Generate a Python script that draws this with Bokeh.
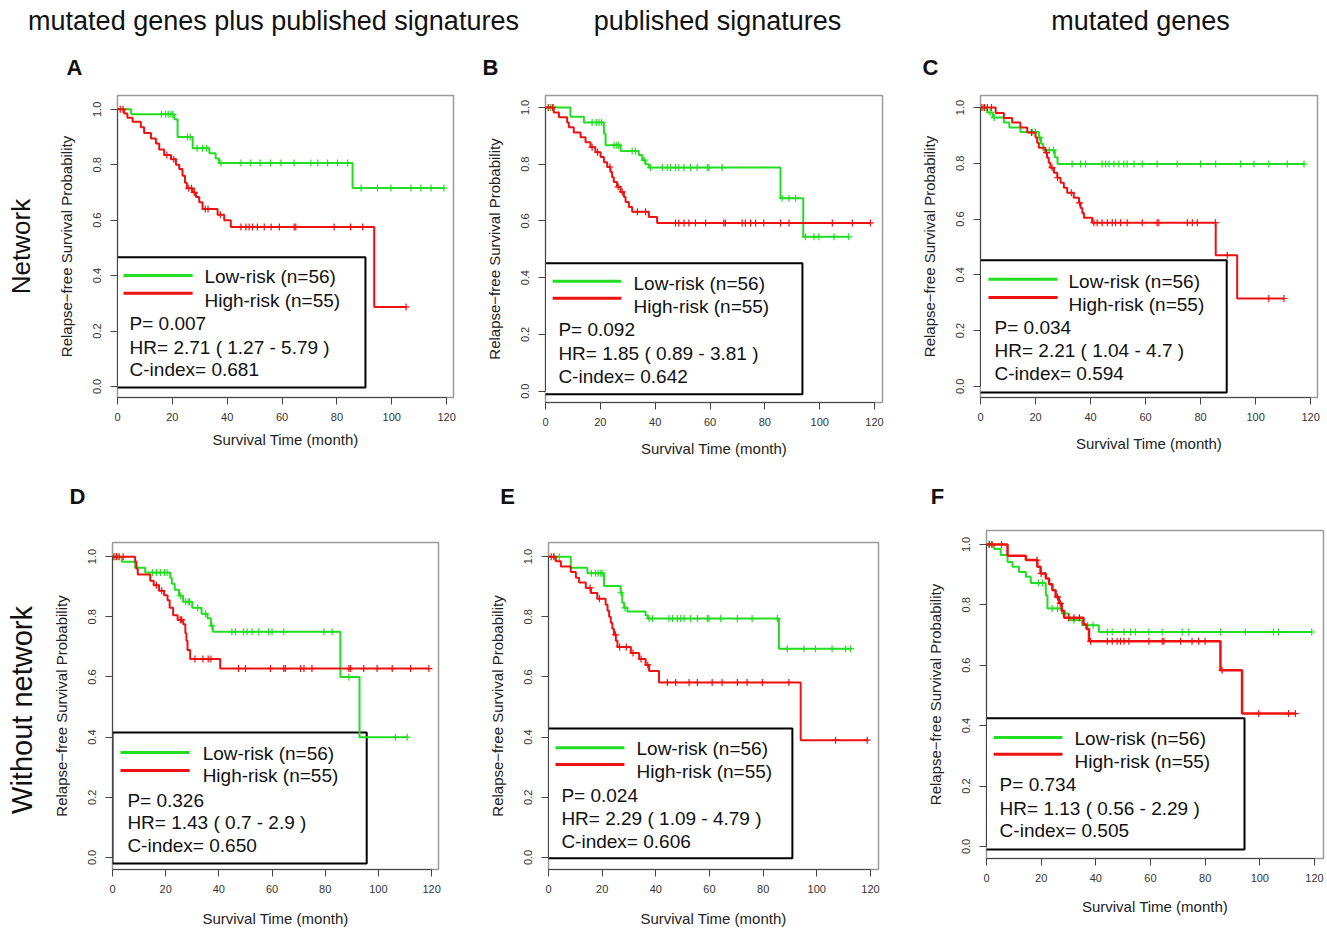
import math
from bokeh.plotting import figure
from bokeh.models import Range1d, BoxAnnotation, PrintfTickFormatter, LinearAxis, FixedTicker
from bokeh.layouts import column, row
from bokeh.core.properties import value
from bokeh.embed import file_html
from bokeh.resources import INLINE

# ------------------------------------------------------------------ data
column_headers = ["mutated genes plus published signatures", "published signatures", "mutated genes"]
row_labels = ["Network", "Without  network"]
panel_letters = ["A", "B", "C", "D", "E", "F"]
legend_labels = ["Low-risk (n=56)", "High-risk (n=55)"]
x_ticks = [0, 20, 40, 60, 80, 100, 120]
y_ticks = [0.0, 0.2, 0.4, 0.6, 0.8, 1.0]
x_title = "Survival Time (month)"
y_title = "Relapse\u2212free Survival Probability"

A_low_time = [5, 20.7, 21.9, 27.4, 33.5, 35.8, 37.0, 85.7]
A_low_surv = [0.982, 0.964, 0.900, 0.860, 0.842, 0.823, 0.806, 0.716]
A_low_cens = [16, 17.5, 18.5, 19.5, 20.2, 25.5, 26.5, 29, 31, 32.5, 37.7, 45, 48.6, 52, 55.8, 59.6, 64.4,
              70.5, 73, 76.6, 80.2, 83.9, 88.8, 94.8, 99.7, 107, 110.6, 114.3, 119]
A_high_time = [2.4, 3.6, 5.5, 8.5, 9.7, 12.2, 14.0, 15.2, 17.0, 19.5, 21.3, 22.5, 23.7, 24.6, 25.3, 27.4,
               28.6, 29.8, 31.0, 36.5, 38.9, 41.3, 93.6]
A_high_surv = [0.985, 0.970, 0.955, 0.935, 0.915, 0.895, 0.877, 0.855, 0.835, 0.820, 0.800, 0.785, 0.760,
               0.735, 0.715, 0.700, 0.684, 0.665, 0.640, 0.620, 0.600, 0.575, 0.287]
A_high_cens = [1, 2, 18, 20.5, 26, 27, 28, 32, 33, 37.5, 45, 46.8, 48, 49.2, 51, 53.5, 56, 59, 64.4, 65,
               79, 85, 89.4, 105.2]

B_low_time = [9.1, 14.0, 21.3, 21.9, 27.4, 34.0, 35.3, 36.5, 37.7, 85.7, 94.0]
B_low_surv = [0.967, 0.947, 0.908, 0.867, 0.846, 0.832, 0.814, 0.800, 0.788, 0.680, 0.544]
B_low_cens = [1.8, 3, 17, 18.5, 19.5, 20.5, 25, 26, 26.7, 31.6, 32.8, 36, 38.3, 42.6, 44.4, 45.6, 47.4,
              48.6, 50.5, 52.9, 55.3, 59, 59.6, 64.4, 86.3, 88.8, 91.2, 94.8, 97.9, 99.7, 105.2, 110.6]
B_high_time = [3.0, 4.9, 7.9, 8.5, 10.3, 12.8, 14.6, 16.4, 18.2, 20.1, 21.3, 22.5, 23.7, 24.3, 24.9, 26.1,
               27.4, 28.6, 29.2, 30.4, 31.6, 37.7, 40.7]
B_high_surv = [0.982, 0.965, 0.947, 0.930, 0.912, 0.895, 0.877, 0.860, 0.842, 0.825, 0.807, 0.790, 0.772,
               0.754, 0.737, 0.720, 0.702, 0.684, 0.667, 0.649, 0.632, 0.614, 0.593]
B_high_cens = [1, 2.5, 17, 19, 23.5, 26.5, 28, 33.5, 36.5, 47.4, 48.6, 50.5, 52.3, 54.7, 58.4, 65, 65.6,
               71.7, 72.9, 74.8, 76.6, 79.6, 85.7, 88.8, 104.6, 111.9, 118.5]

C_low_time = [2.4, 4.5, 8.5, 10.5, 14.5, 21.2, 22.0, 22.8, 27.0, 28.0]
C_low_surv = [0.982, 0.964, 0.946, 0.928, 0.912, 0.892, 0.870, 0.847, 0.822, 0.797]
C_low_cens = [1, 3.5, 5, 19, 20, 21.5, 25, 26.5, 33.3, 36.4, 38.2, 44.2, 45.5, 46.7, 48.5, 50.3, 52.1,
              53.3, 55.8, 58.8, 64.2, 71.5, 80, 85.5, 94.5, 99.4, 104.8, 111.5, 117.6]
C_high_time = [5.5, 8.5, 11.5, 14.5, 17.0, 20.0, 20.6, 21.2, 23.6, 24.2, 24.8, 25.4, 26.7, 27.9, 29.1,
               30.3, 31.5, 33.9, 35.8, 36.4, 37.0, 37.6, 40.6, 85.5, 93.3]
C_high_surv = [0.980, 0.962, 0.946, 0.928, 0.910, 0.892, 0.874, 0.856, 0.838, 0.820, 0.802, 0.784, 0.766,
               0.748, 0.730, 0.712, 0.694, 0.676, 0.658, 0.640, 0.622, 0.605, 0.587, 0.470, 0.315]
C_high_cens = [0.5, 1.5, 2.5, 4, 18.5, 24, 26, 28, 33, 36, 41.2, 42.4, 44.2, 46.1, 47.9, 49.1, 50.9, 53.3,
               58.8, 64.2, 64.8, 75.2, 77, 78.8, 85.4, 89.7, 104.8, 110.3]

D_low_time = [3.5, 8.5, 12.3, 21.7, 22.3, 23.4, 25.0, 26.5, 30.0, 33.5, 35.7, 37.0, 37.7, 85.7, 92.9]
D_low_surv = [0.983, 0.963, 0.947, 0.930, 0.910, 0.890, 0.870, 0.850, 0.830, 0.810, 0.795, 0.770, 0.750,
              0.600, 0.400]
D_low_cens = [1, 2, 15, 16.5, 18, 19.5, 20.5, 25.5, 27.5, 28.5, 29, 32, 35, 37.4, 44.9, 46.2, 49.3, 50.6,
              52.5, 55, 58.7, 60, 64.4, 79.5, 82.6, 88.9, 106.4, 110.8]
D_high_time = [8.5, 9.0, 9.5, 14.2, 15.5, 17.5, 19.4, 20.7, 21.5, 22.8, 24.5, 26.6, 27.4, 27.8, 28.2, 29.2, 40.5]
D_high_surv = [0.983, 0.960, 0.941, 0.920, 0.905, 0.887, 0.872, 0.855, 0.830, 0.805, 0.790, 0.775, 0.745,
               0.720, 0.690, 0.660, 0.628]
D_high_cens = [0.5, 1.5, 2.5, 4, 16.5, 18.5, 25.5, 26, 31, 34, 36, 37, 47.4, 50, 59.4, 64.4, 65, 70.7, 72,
               75, 88.9, 89.5, 94.5, 99.5, 105.2, 112.1, 119]

E_low_time = [8.3, 14.5, 20.7, 26.9, 27.5, 28.2, 29.4, 36.2, 37.0, 85.9]
E_low_surv = [0.963, 0.945, 0.902, 0.880, 0.847, 0.830, 0.818, 0.805, 0.794, 0.694]
E_low_cens = [2, 4, 16, 17.5, 18.5, 19.5, 20, 27, 28.5, 37.5, 38.7, 44.9, 46.2, 48, 49.3, 50.5, 53, 55.5,
              59.2, 59.8, 64.2, 70.4, 75.9, 85.3, 89, 95.2, 99.5, 105.7, 110.7, 112.6]
E_high_time = [2.7, 4.6, 8.3, 10.2, 11.4, 13.9, 15.8, 18.2, 21.3, 22.0, 22.6, 23.2, 23.8, 24.4, 25.1, 25.7,
               30.7, 33.8, 36.2, 37.5, 41.2, 94.0]
E_high_surv = [0.985, 0.967, 0.949, 0.930, 0.914, 0.896, 0.879, 0.860, 0.840, 0.820, 0.800, 0.780, 0.760,
               0.740, 0.720, 0.700, 0.680, 0.660, 0.640, 0.620, 0.582, 0.390]
E_high_cens = [1, 2, 15.5, 19, 25, 26.5, 29, 31.5, 34.5, 37, 44.3, 47.4, 52.4, 55.5, 61, 64.7, 70.4, 74,
               79.7, 89.6, 107, 118.8]

F_low_time = [2.8, 5.2, 7.7, 9.5, 11.9, 14.4, 16.2, 21.7, 22.3, 27.7, 30.2, 35.0, 41.1]
F_low_surv = [0.985, 0.965, 0.942, 0.926, 0.909, 0.893, 0.872, 0.832, 0.788, 0.771, 0.749, 0.732, 0.710]
F_low_cens = [1, 2, 19, 20.5, 24, 26, 28.5, 32, 37, 39, 44.2, 46, 50.3, 52.7, 54.5, 59.4, 64.3, 71.6, 74,
              85.6, 94.7, 105, 106.8, 119]
F_high_time = [7.7, 14.4, 18.6, 19.8, 21.7, 22.9, 24.1, 25.3, 26.5, 27.5, 28.4, 35.5, 36.6, 37.5, 85.6, 93.5]
F_high_surv = [0.962, 0.948, 0.926, 0.904, 0.887, 0.868, 0.848, 0.826, 0.805, 0.780, 0.757, 0.735, 0.720,
               0.679, 0.583, 0.440]
F_high_cens = [1, 2, 5.5, 18.5, 20, 26, 27, 30, 32, 34, 38.1, 44.2, 46, 47.8, 49, 50.3, 52.1, 59.4, 64.3,
               64.9, 71, 75.2, 77.6, 80, 86.2, 99.6, 110.5, 113]

p_values = ["0.007", "0.092", "0.034", "0.326", "0.024", "0.734"]
hr_texts = ["2.71 ( 1.27 - 5.79 )", "1.85 ( 0.89 - 3.81 )", "2.21 ( 1.04 - 4.7 )",
            "1.43 ( 0.7 - 2.9 )", "2.29 ( 1.09 - 4.79 )", "1.13 ( 0.56 - 2.29 )"]
c_index = ["0.681", "0.642", "0.594", "0.650", "0.606", "0.505"]

CURVES = {
    "A": ((A_low_time, A_low_surv, A_low_cens), (A_high_time, A_high_surv, A_high_cens)),
    "B": ((B_low_time, B_low_surv, B_low_cens), (B_high_time, B_high_surv, B_high_cens)),
    "C": ((C_low_time, C_low_surv, C_low_cens), (C_high_time, C_high_surv, C_high_cens)),
    "D": ((D_low_time, D_low_surv, D_low_cens), (D_high_time, D_high_surv, D_high_cens)),
    "E": ((E_low_time, E_low_surv, E_low_cens), (E_high_time, E_high_surv, E_high_cens)),
    "F": ((F_low_time, F_low_surv, F_low_cens), (F_high_time, F_high_surv, F_high_cens)),
}

# ------------------------------------------------------------------ style / layout
FONT = "Liberation Sans"
GREEN = "#22DD22"
RED = "#EE1111"
FRAME = "#9A9A9A"
AXIS = "#444444"

# figure w/h, borders (l, r, t, b), x_end, y_top, x-title standoff, optional row label (index, standoff, size)
PANEL_LAYOUT = {
    "A": dict(w=470, h=382, l=117, r=17, t=7, b=73, xend=122.5, ytop=1.050, xs=7, row=(0, 19, "26px")),
    "B": dict(w=435, h=382, l=75, r=23, t=7, b=68, xend=122.9, ytop=1.042, xs=11),
    "C": dict(w=421, h=382, l=75, r=9, t=7, b=73, xend=122.5, ytop=1.043, xs=11),
    "D": dict(w=470, h=406, l=112, r=32, t=17, b=62, xend=122.6, ytop=1.047, xs=14, row=(1, 12, "29px")),
    "E": dict(w=435, h=406, l=78, r=27, t=17, b=62, xend=123.0, ytop=1.047, xs=14),
    "F": dict(w=421, h=406, l=81, r=3, t=5, b=73, xend=123.3, ytop=1.046, xs=13),
}
# legend box (left, right, top, bottom), sample line x0,x1, sample ys, label ys, label x, stats x, stats ys
LEGEND_LAYOUT = {
    "A": dict(box=(-0.7, 90.4, 0.466, -0.004), lx=(2.2, 27.4), ly=(0.400, 0.336), ty=(0.395, 0.310), tx=31.7, sx=4.4, sy=(0.227, 0.141, 0.061)),
    "B": dict(box=(-0.7, 93.7, 0.451, -0.011), lx=(2.6, 27.7), ly=(0.387, 0.327), ty=(0.381, 0.299), tx=32.1, sx=4.7, sy=(0.218, 0.134, 0.053)),
    "C": dict(box=(-0.4, 89.5, 0.452, -0.022), lx=(2.9, 28.0), ly=(0.384, 0.319), ty=(0.377, 0.294), tx=32.0, sx=5.1, sy=(0.211, 0.129, 0.047)),
    "D": dict(box=(0.0, 95.6, 0.415, -0.020), lx=(3.0, 29.0), ly=(0.349, 0.289), ty=(0.345, 0.272), tx=33.9, sx=5.6, sy=(0.189, 0.116, 0.040)),
    "E": dict(box=(-0.4, 90.9, 0.429, -0.003), lx=(2.6, 28.3), ly=(0.365, 0.309), ty=(0.361, 0.286), tx=32.8, sx=4.8, sy=(0.206, 0.130, 0.053)),
    "F": dict(box=(-0.4, 94.4, 0.424, -0.010), lx=(2.6, 27.8), ly=(0.361, 0.305), ty=(0.357, 0.281), tx=32.2, sx=4.8, sy=(0.205, 0.126, 0.053)),
}
# header strips: (x centers, y center) in strip pixels
HEADER_POS = dict(x=[273, 717, 1140], y=20)
LETTER_POS_TOP = dict(x=[74, 490, 930], y=67)
LETTER_POS_BOTTOM = dict(x=[77, 507, 937], y=26)
TOTAL_W = 1326


def km_path(times, surv, cens):
    end = max(list(times) + list(cens))
    return [0.0] + list(times) + [end], [1.0] + list(surv) + [surv[-1]]


def surv_at(times, surv, t):
    s = 1.0
    for ti, si in zip(times, surv):
        if ti <= t:
            s = si
    return s


def blank(w, h):
    p = figure(width=w, height=h, x_range=Range1d(0, w), y_range=Range1d(h, 0),
               x_axis_type=None, y_axis_type=None, toolbar_location=None,
               output_backend="svg", min_border=0, outline_line_color=None, title=None)
    p.grid.visible = False
    p.frame_align = False
    return p


def make_panel(idx, key):
    L = PANEL_LAYOUT[key]
    G = LEGEND_LAYOUT[key]
    p = figure(width=L["w"], height=L["h"], x_range=Range1d(0, L["xend"]), y_range=Range1d(-0.04, L["ytop"]),
               toolbar_location=None, output_backend="svg", title=None,
               min_border_left=L["l"], min_border_right=L["r"], min_border_top=L["t"], min_border_bottom=L["b"])
    p.frame_align = False
    p.grid.visible = False
    p.outline_line_color = FRAME
    p.outline_line_width = 1.5
    p.xaxis.ticker = x_ticks
    p.yaxis.ticker = y_ticks
    p.yaxis.formatter = PrintfTickFormatter(format="%.1f")
    p.xaxis.bounds = (0, 120)
    p.yaxis.bounds = (0, 1)
    for ax in (p.xaxis[0], p.yaxis[0]):
        ax.axis_line_color = AXIS
        ax.major_tick_line_color = AXIS
        ax.minor_tick_line_color = None
        ax.major_tick_in = 0
        ax.major_tick_out = 7
        ax.major_label_text_font = FONT
        ax.major_label_text_font_size = "11px"
        ax.major_label_text_color = "#333333"
        ax.axis_label_text_font = FONT
        ax.axis_label_text_font_size = "15px"
        ax.axis_label_text_font_style = "normal"
        ax.axis_label_text_color = "#222222"
    p.xaxis.axis_label = x_title
    p.yaxis.axis_label = y_title
    p.xaxis.major_label_standoff = 8
    p.xaxis.axis_label_standoff = L["xs"]
    p.yaxis.major_label_standoff = 9
    p.yaxis.axis_label_standoff = 16
    p.yaxis.major_label_orientation = "vertical"

    if "row" in L:
        ri, standoff, size = L["row"]
        extra = LinearAxis(ticker=FixedTicker(ticks=[]), axis_label=row_labels[ri],
                           axis_line_color=None, major_tick_line_color=None, minor_tick_line_color=None,
                           major_tick_out=0, major_tick_in=0, major_label_standoff=0,
                           axis_label_standoff=standoff, axis_label_text_font=FONT,
                           axis_label_text_font_size=size, axis_label_text_font_style="normal",
                           axis_label_text_color="#111111")
        p.add_layout(extra, "left")

    bl, br, bt, bb = G["box"]
    p.add_layout(BoxAnnotation(left=bl, right=br, top=bt, bottom=bb, fill_color="white", fill_alpha=1.0,
                               line_color="black", line_alpha=1.0, line_width=2, level="underlay"))

    (lt, ls, lc), (ht, hs, hc) = CURVES[key]
    lw_high = 2.5 if key == "F" else 2
    for (t, s, c), color, lw in (((lt, ls, lc), GREEN, 2), ((ht, hs, hc), RED, lw_high)):
        xs, ys = km_path(t, s, c)
        p.step(xs, ys, mode="after", line_color=color, line_width=lw)
        p.scatter(c, [surv_at(t, s, ci) for ci in c], marker="cross", size=7, line_color=color, line_width=1.2)

    x0, x1 = G["lx"]
    gy, ry = G["ly"]
    p.segment(x0=[x0, x0], x1=[x1, x1], y0=[gy, ry], y1=[gy, ry], line_color=[GREEN, RED], line_width=3)
    p.text(x=[G["tx"], G["tx"]], y=list(G["ty"]), text=legend_labels,
           text_font=value(FONT), text_font_size="19px", text_baseline="middle", text_align="left",
           text_color="#111111")
    stats = ["P= " + p_values[idx], "HR= " + hr_texts[idx], "C-index= " + c_index[idx]]
    p.text(x=[G["sx"]] * 3, y=list(G["sy"]), text=stats,
           text_font=value(FONT), text_font_size="19px", text_baseline="middle", text_align="left",
           text_color="#111111")
    return p


strip1 = blank(TOTAL_W, 88)
strip1.text(x=HEADER_POS["x"], y=[HEADER_POS["y"]] * 3, text=column_headers, text_font=value(FONT),
            text_font_size="27px", text_align="center", text_baseline="middle", text_color="#111111")
strip1.text(x=LETTER_POS_TOP["x"], y=[LETTER_POS_TOP["y"]] * 3, text=panel_letters[:3], text_font=value(FONT),
            text_font_size="22px", text_font_style="bold", text_align="center", text_baseline="middle",
            text_color="#111111")

strip2 = blank(TOTAL_W, 55)
strip2.text(x=LETTER_POS_BOTTOM["x"], y=[LETTER_POS_BOTTOM["y"]] * 3, text=panel_letters[3:],
            text_font=value(FONT), text_font_size="22px", text_font_style="bold", text_align="center",
            text_baseline="middle", text_color="#111111")

panels = [make_panel(i, k) for i, k in enumerate(panel_letters)]

layout = column(strip1,
                row(panels[0], panels[1], panels[2]),
                strip2,
                row(panels[3], panels[4], panels[5]))

open("out.html", "w").write(file_html(layout, INLINE))
